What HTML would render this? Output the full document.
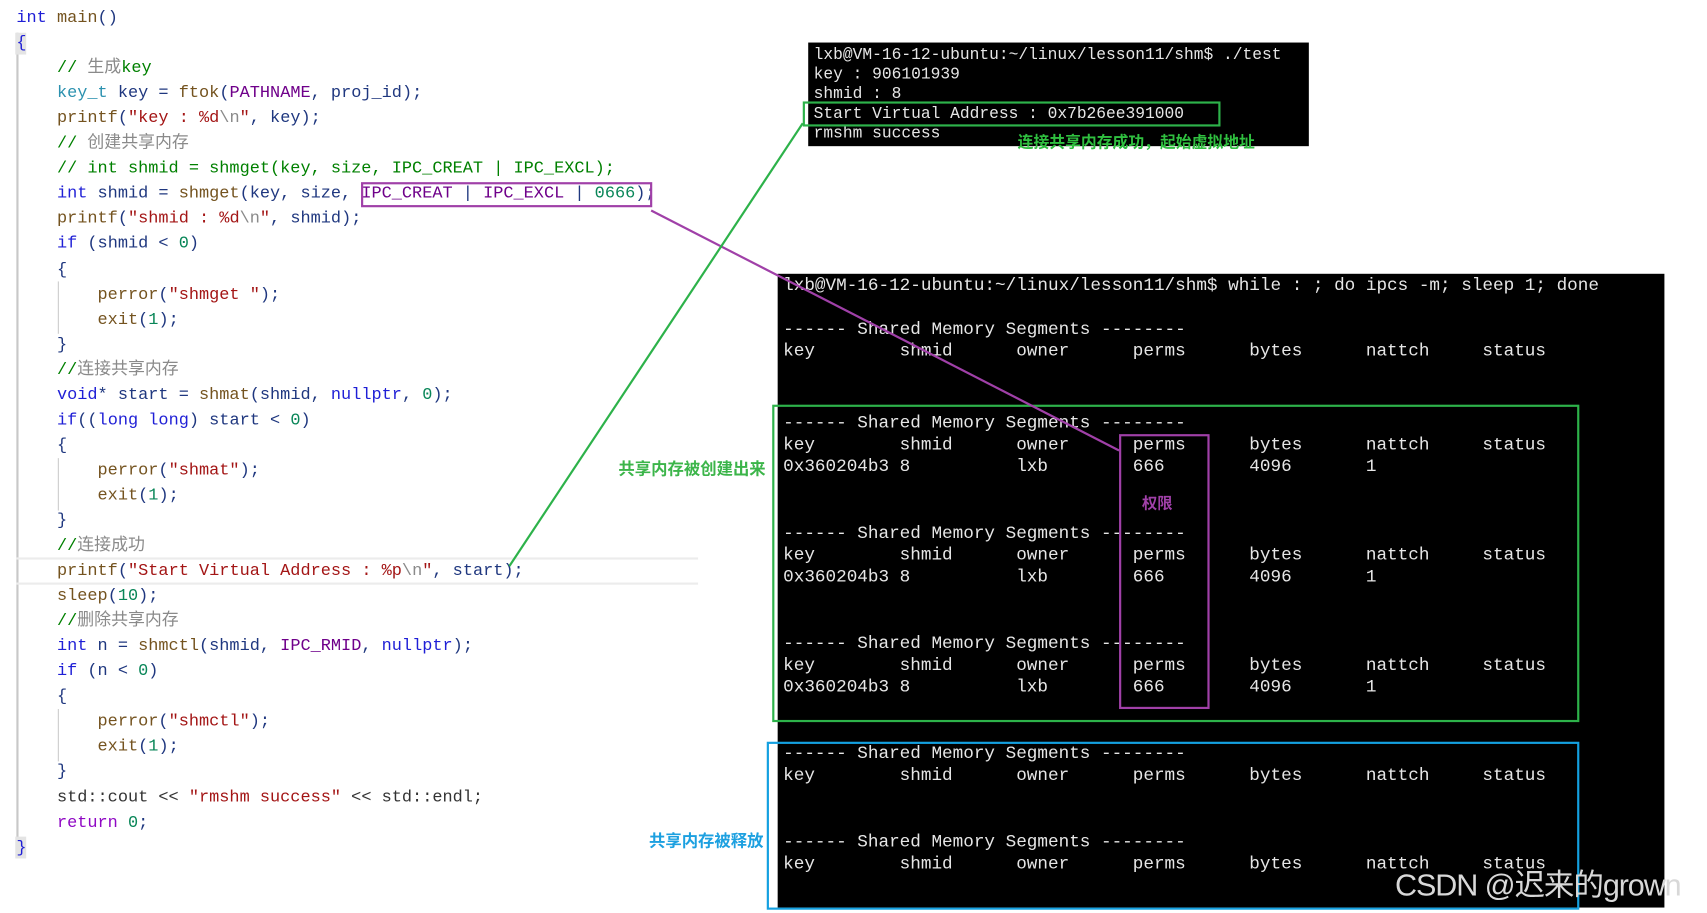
<!DOCTYPE html>
<html><head><meta charset="utf-8"><style>
html,body{margin:0;padding:0;background:#fff;overflow:hidden;width:1707px;height:913px}
#w{position:absolute;left:0;top:0;width:1565px;height:837px;transform:scale(1.0907,1.0908);transform-origin:0 0}
.c{position:absolute;font-family:"Liberation Mono","Noto Sans CJK SC",monospace;font-size:15.5px;line-height:20px;white-space:pre;color:#1f377f}
.k{color:#1f1fd6}.t{color:#2b91af}.f{color:#74531f}.s{color:#a31515}.cm{color:#008000}.m{color:#6f008a}.n{color:#098658}.e{color:#8a8a8a}.p{color:#333}
.term{position:absolute;background:#000}
.tt{position:absolute;font-family:"Liberation Mono","DejaVu Sans Mono",monospace;color:#e6e6e6;white-space:pre}
.big{font-size:16.2px;line-height:20px}
.sm{font-size:14.9px;line-height:18px}
.box{position:absolute;box-sizing:border-box}
.lab{position:absolute;font-family:"Noto Sans CJK SC","WenQuanYi Zen Hei",sans-serif;font-weight:bold;font-size:15px;white-space:nowrap}
</style></head><body><div id="w">
<div style="position:absolute;left:15px;top:30px;width:2px;height:756px;background:#c8c8c8"></div>
<div style="position:absolute;left:14px;top:30px;width:10px;height:20px;background:#e4e4e4"></div>
<div style="position:absolute;left:14px;top:767px;width:10px;height:20px;background:#e4e4e4"></div>
<div style="position:absolute;left:53px;top:258px;width:1px;height:48px;background:#ccc"></div>
<div style="position:absolute;left:53px;top:420px;width:1px;height:48px;background:#ccc"></div>
<div style="position:absolute;left:53px;top:650px;width:1px;height:48px;background:#ccc"></div>
<div style="position:absolute;left:15px;top:511px;width:625px;height:2px;background:#ececec"></div>
<div style="position:absolute;left:15px;top:534px;width:625px;height:2px;background:#ececec"></div>

<div class="c" style="left:15px;top:6px"><span class="k">int</span> <span class="f">main</span>()</div>
<div class="c" style="left:15px;top:29px"><span class="k">{</span></div>
<div class="c" style="left:15px;top:52px">    <span class="cm">// <span class="e">生成</span>key</span></div>
<div class="c" style="left:15px;top:75px">    <span class="t">key_t</span> key = <span class="f">ftok</span>(<span class="m">PATHNAME</span>, proj_id);</div>
<div class="c" style="left:15px;top:98px">    <span class="f">printf</span>(<span class="s">"key : %d<span class="e">\n</span>"</span>, key);</div>
<div class="c" style="left:15px;top:121px">    <span class="cm">// <span class="e">创建共享内存</span></span></div>
<div class="c" style="left:15px;top:144px">    <span class="cm">// int shmid = shmget(key, size, IPC_CREAT | IPC_EXCL);</span></div>
<div class="c" style="left:15px;top:167px">    <span class="k">int</span> shmid = <span class="f">shmget</span>(key, size, <span class="m">IPC_CREAT</span> | <span class="m">IPC_EXCL</span> | <span class="n">0666</span>);</div>
<div class="c" style="left:15px;top:190px">    <span class="f">printf</span>(<span class="s">"shmid : %d<span class="e">\n</span>"</span>, shmid);</div>
<div class="c" style="left:15px;top:213px">    <span class="k">if</span> (shmid &lt; <span class="n">0</span>)</div>
<div class="c" style="left:15px;top:237px">    {</div>
<div class="c" style="left:15px;top:260px">        <span class="f">perror</span>(<span class="s">"shmget "</span>);</div>
<div class="c" style="left:15px;top:283px">        <span class="f">exit</span>(<span class="n">1</span>);</div>
<div class="c" style="left:15px;top:306px">    }</div>
<div class="c" style="left:15px;top:329px">    <span class="cm">//<span class="e">连接共享内存</span></span></div>
<div class="c" style="left:15px;top:352px">    <span class="k">void</span>* start = <span class="f">shmat</span>(shmid, <span class="k">nullptr</span>, <span class="n">0</span>);</div>
<div class="c" style="left:15px;top:375px">    <span class="k">if</span>((<span class="k">long long</span>) start &lt; <span class="n">0</span>)</div>
<div class="c" style="left:15px;top:398px">    {</div>
<div class="c" style="left:15px;top:421px">        <span class="f">perror</span>(<span class="s">"shmat"</span>);</div>
<div class="c" style="left:15px;top:444px">        <span class="f">exit</span>(<span class="n">1</span>);</div>
<div class="c" style="left:15px;top:467px">    }</div>
<div class="c" style="left:15px;top:490px">    <span class="cm">//<span class="e">连接成功</span></span></div>
<div class="c" style="left:15px;top:513px">    <span class="f">printf</span>(<span class="s">"Start Virtual Address : %p<span class="e">\n</span>"</span>, start);</div>
<div class="c" style="left:15px;top:536px">    <span class="f">sleep</span>(<span class="n">10</span>);</div>
<div class="c" style="left:15px;top:559px">    <span class="cm">//<span class="e">删除共享内存</span></span></div>
<div class="c" style="left:15px;top:582px">    <span class="k">int</span> n = <span class="f">shmctl</span>(shmid, <span class="m">IPC_RMID</span>, <span class="k">nullptr</span>);</div>
<div class="c" style="left:15px;top:605px">    <span class="k">if</span> (n &lt; <span class="n">0</span>)</div>
<div class="c" style="left:15px;top:628px">    {</div>
<div class="c" style="left:15px;top:651px">        <span class="f">perror</span>(<span class="s">"shmctl"</span>);</div>
<div class="c" style="left:15px;top:674px">        <span class="f">exit</span>(<span class="n">1</span>);</div>
<div class="c" style="left:15px;top:697px">    }</div>
<div class="c" style="left:15px;top:721px">    <span class="p">std::cout &lt;&lt; </span><span class="s">"rmshm success"</span><span class="p"> &lt;&lt; std::endl;</span></div>
<div class="c" style="left:15px;top:744px">    <span class="k" style="color:#8f08c4">return</span> <span class="n">0</span>;</div>
<div class="c" style="left:15px;top:767px"><span class="k">}</span></div>

<div class="box" style="left:331px;top:167px;width:267px;height:23px;border:2px solid #a040a8"></div>

<div class="term" style="left:741px;top:39px;width:459px;height:95px"></div>
<div class="tt sm" style="left:746px;top:42px">lxb@VM-16-12-ubuntu:~/linux/lesson11/shm$ ./test
key : 906101939
shmid : 8
Start Virtual Address : 0x7b26ee391000
rmshm success</div>
<div class="box" style="left:736px;top:93px;width:383px;height:23px;border:2px solid #2db24a"></div>
<div class="lab" style="left:933px;top:119px;color:#2fbf3f;font-size:14.5px">连接共享内存成功，起始虚拟地址</div>

<div class="term" style="left:713px;top:251px;width:813px;height:581px"></div>
<div class="tt big" style="left:718px;top:252px">lxb@VM-16-12-ubuntu:~/linux/lesson11/shm$ while : ; do ipcs -m; sleep 1; done</div>
<div class="tt big" style="left:718px;top:292px">------ Shared Memory Segments --------
key        shmid      owner      perms      bytes      nattch     status</div>
<div class="tt big" style="left:718px;top:378px">------ Shared Memory Segments --------
key        shmid      owner      perms      bytes      nattch     status
0x360204b3 8          lxb        666        4096       1</div>
<div class="tt big" style="left:718px;top:479px">------ Shared Memory Segments --------
key        shmid      owner      perms      bytes      nattch     status
0x360204b3 8          lxb        666        4096       1</div>
<div class="tt big" style="left:718px;top:580px">------ Shared Memory Segments --------
key        shmid      owner      perms      bytes      nattch     status
0x360204b3 8          lxb        666        4096       1</div>
<div class="tt big" style="left:718px;top:681px">------ Shared Memory Segments --------
key        shmid      owner      perms      bytes      nattch     status</div>
<div class="tt big" style="left:718px;top:762px">------ Shared Memory Segments --------
key        shmid      owner      perms      bytes      nattch     status</div>

<div class="box" style="left:708px;top:371px;width:740px;height:291px;border:2px solid #2db24a"></div>
<div class="box" style="left:1026px;top:398px;width:83px;height:252px;border:2px solid #a040a8"></div>
<div class="lab" style="left:1047px;top:451px;color:#a040a8;font-size:14px">权限</div>
<div class="box" style="left:703px;top:680px;width:745px;height:154px;border:2px solid #14a0e0"></div>
<div class="lab" style="left:567px;top:419px;color:#3cb54a">共享内存被创建出来</div>
<div class="lab" style="left:595px;top:760px;color:#1ca0e0">共享内存被释放</div>

<svg style="position:absolute;left:0;top:0" width="1565" height="837">
<line x1="597" y1="193" x2="1026" y2="413" stroke="#a040a8" stroke-width="2"/>
<line x1="467" y1="519" x2="736" y2="113" stroke="#2db24a" stroke-width="2"/>
</svg>
<div style="position:absolute;left:1279px;top:790px;font-family:'Liberation Sans','Noto Sans CJK SC',sans-serif;font-size:28px;color:#d8d8d8;white-space:nowrap;letter-spacing:-1px">CSDN @迟来的grown</div>
</div></body></html>
